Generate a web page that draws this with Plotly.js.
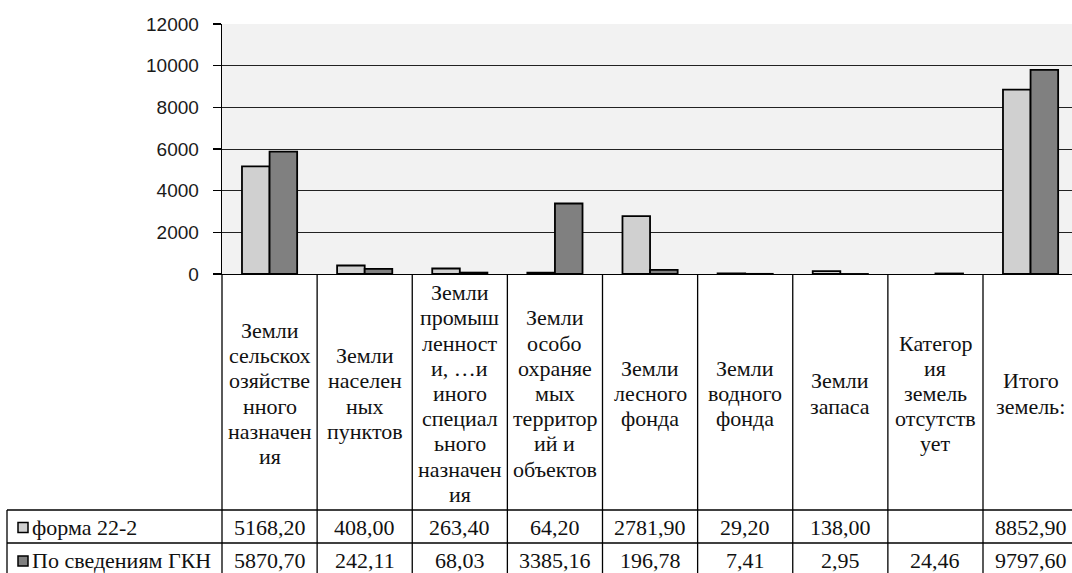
<!DOCTYPE html>
<html><head><meta charset="utf-8">
<script src="https://cdn.plot.ly/plotly-3.0.1.min.js"></script>
<style>html,body{margin:0;padding:0;background:#fff;overflow:hidden}#chart{width:1072px;height:573px}</style>
</head><body><div id="chart"></div>
<script>
// ---- data ----
const categories = [
  'Земли сельскохозяйственного назначения',
  'Земли населенных пунктов',
  'Земли промышленности, …и иного специального назначения',
  'Земли особо охраняемых территорий и объектов',
  'Земли лесного фонда',
  'Земли водного фонда',
  'Земли запаса',
  'Категория земель отсутствует',
  'Итого земель:'
];
const categoryLines = [
  ['Земли','сельскох','озяйстве','нного','назначен','ия'],
  ['Земли','населен','ных','пунктов'],
  ['Земли','промыш','ленност','и, …и','иного','специал','ьного','назначен','ия'],
  ['Земли','особо','охраняе','мых','территор','ий и','объектов'],
  ['Земли','лесного','фонда'],
  ['Земли','водного','фонда'],
  ['Земли','запаса'],
  ['Категор','ия','земель','отсутств','ует'],
  ['Итого','земель:']
];
const seriesNames = ['форма 22-2', 'По сведениям ГКН'];
const forma22 = [5168.20, 408.00, 263.40, 64.20, 2781.90, 29.20, 138.00, null, 8852.90];
const gkn = [5870.70, 242.11, 68.03, 3385.16, 196.78, 7.41, 2.95, 24.46, 9797.60];
const yTicks = [0, 2000, 4000, 6000, 8000, 10000, 12000];

// pick an installed serif font (detected by width against a monospace fallback)
function pickFont(cands) {
  const c = document.createElement('canvas').getContext('2d');
  const s = 'Земли сельскохозяйственного 5168,20 mmmWWiil';
  c.font = '40px monospace'; const base = c.measureText(s).width;
  for (const f of cands) { c.font = '40px "' + f + '", monospace'; if (Math.abs(c.measureText(s).width - base) > 0.5) return f; }
  return 'serif';
}
const serif = pickFont(['Liberation Serif', 'Times New Roman', 'Tinos', 'Noto Serif', 'DejaVu Serif']);

// ---- layout geometry (pixels) ----
const W = 1072, H = 573;
const L = 222, T = 24, PB = 274;
const colW = 95.125;
const plotW = W - L, plotH = PB - T;
const px2x = p => (p - L) / plotW;
const px2y = p => (PB - p) / plotH;
const colors = ['#d0d0d0', '#808080'];
const fmt = v => (v === null || v === undefined) ? '' : v.toFixed(2).replace('.', ',');

const traces = [forma22, gkn].map((vals, i) => ({
  type: 'bar', name: seriesNames[i], x: categories, y: vals,
  marker: {color: colors[i], line: {color: '#000', width: 1.8}},
  hoverinfo: 'skip'
}));

const shapes = [];
const lineStyle = {color: '#000', width: 1.3};
const nCols = categories.length;
const rowTop = 510, rowMid = 543, rowBot = 578;
[rowTop, rowMid, rowBot].forEach(y => shapes.push({type: 'line', xref: 'paper', yref: 'paper',
  x0: px2x(7), x1: px2x(L + colW * nCols), y0: px2y(y), y1: px2y(y), line: lineStyle, layer: 'above'}));
shapes.push({type: 'line', xref: 'paper', yref: 'paper', x0: px2x(7), x1: px2x(7), y0: px2y(rowTop), y1: px2y(rowBot), line: lineStyle});
for (let k = 0; k <= nCols; k++) {
  shapes.push({type: 'line', xref: 'paper', yref: 'paper', x0: k * colW / plotW, x1: k * colW / plotW,
    y0: px2y(PB), y1: px2y(rowBot), line: lineStyle});
}
const rowCenters = [527.5, 561];
rowCenters.forEach((c, i) => shapes.push({type: 'rect', xref: 'paper', yref: 'paper',
  x0: px2x(18), x1: px2x(28), y0: px2y(c - 5), y1: px2y(c + 5),
  fillcolor: colors[i], line: {color: '#000', width: 1.5}}));

const annotations = [];
const lineH = 25.2, headCenter = 393.5;
const tFont = {family: serif, size: 22, color: '#111'};
categoryLines.forEach((lines, ci) => {
  lines.forEach((t, li) => {
    annotations.push({xref: 'x', yref: 'paper', x: ci, y: px2y(headCenter + (li - (lines.length - 1) / 2) * lineH),
      text: t, showarrow: false, xanchor: 'center', yanchor: 'middle', font: tFont});
  });
});
[forma22, gkn].forEach((vals, ri) => {
  vals.forEach((v, ci) => {
    if (v === null) return;
    annotations.push({xref: 'x', yref: 'paper', x: ci, y: px2y(rowCenters[ri]), text: fmt(v),
      showarrow: false, xanchor: 'center', yanchor: 'middle', font: tFont});
  });
  annotations.push({xref: 'paper', yref: 'paper', x: px2x(30), y: px2y(rowCenters[ri]), text: seriesNames[ri],
    showarrow: false, xanchor: 'left', yanchor: 'middle', font: tFont});
});

const layout = {
  width: W, height: H,
  margin: {l: L, r: 0, t: T, b: H - PB, pad: 0},
  paper_bgcolor: '#fff', plot_bgcolor: '#f2f2f2',
  showlegend: false,
  barmode: 'group', bargap: 0.42, bargroupgap: 0,
  xaxis: {type: 'category', range: [-0.5, -0.5 + plotW / colW], showticklabels: false, ticks: '',
    showgrid: false, zeroline: false, showline: true, linecolor: '#000', linewidth: 1.3, fixedrange: true},
  yaxis: {range: [0, 12000], tickvals: yTicks, ticktext: yTicks.map(String), ticks: 'outside', ticklen: 8,
    tickcolor: '#000', tickwidth: 1.3, showgrid: true, gridcolor: '#222', gridwidth: 1, zeroline: false,
    showline: true, linecolor: '#000', linewidth: 1.3, ticklabelstandoff: 10,
    tickfont: {family: 'Liberation Sans', size: 19, color: '#1a1a1a'}, fixedrange: true},
  shapes: shapes, annotations: annotations
};
Plotly.newPlot('chart', traces, layout, {displayModeBar: false, staticPlot: true});
</script></body></html>
